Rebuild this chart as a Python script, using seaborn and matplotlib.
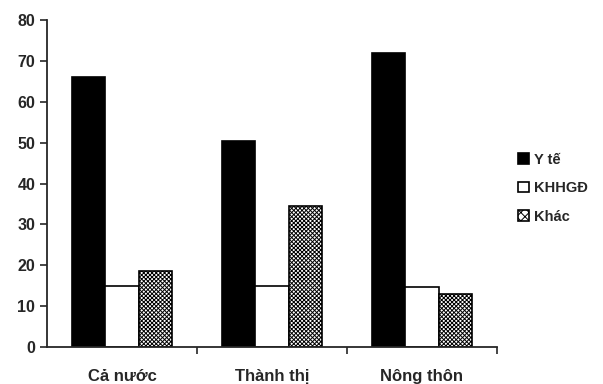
import seaborn as sns
import matplotlib.pyplot as plt
import pandas as pd
from matplotlib.patches import Patch

categories = ["Cả nước", "Thành thị", "Nông thôn"]
series = ["Y tế", "KHHGĐ", "Khác"]
y_te = [66, 50.4, 71.9]
khhgd = [15, 15, 14.8]
khac = [18.6, 34.6, 13]

sns.set_style("ticks")
plt.rcParams['font.family'] = ['Liberation Sans', 'DejaVu Sans']
plt.rcParams['font.weight'] = 'bold'
plt.rcParams['hatch.linewidth'] = 0.7

df = pd.DataFrame({
    "cat": categories * 3,
    "series": [s for s in series for _ in categories],
    "value": y_te + khhgd + khac,
})

colors = {"Y tế": "black", "KHHGĐ": "white", "Khác": "white"}

fig = plt.figure(figsize=(6.03, 3.84), dpi=100)
ax = fig.add_axes([0.078, 0.096, 0.746, 0.852])
sns.barplot(data=df, x="cat", y="value", hue="series", palette=colors,
            width=2/3, gap=0, edgecolor="black", linewidth=1.2,
            legend=False, ax=ax)

for bar in ax.containers[2]:
    bar.set_hatch("xxxxxxxx")

ax.set_xlim(-0.5, 2.5)
ax.set_ylim(0, 80)
ax.set_yticks(range(0, 81, 10))
ax.set_xticks([0.5, 1.5, 2.5], minor=False)
ax.set_xticklabels([])
ax.set_xticks([0, 1, 2], minor=True)
ax.set_xticklabels(categories, minor=True, fontsize=12, fontweight='bold')
ax.tick_params(axis='x', which='minor', length=0, pad=16)
ax.tick_params(axis='x', which='major', length=5, width=1.2, direction='out')
ax.tick_params(axis='y', length=5, width=1.2, labelsize=11.5)
for lab in ax.get_yticklabels():
    lab.set_fontweight('bold')
ax.set_xlabel("")
ax.set_ylabel("")
sns.despine(ax=ax)
for sp in ["left", "bottom"]:
    ax.spines[sp].set_linewidth(1.3)

handles = [
    Patch(facecolor="black", edgecolor="black", linewidth=1.2),
    Patch(facecolor="white", edgecolor="black", linewidth=1.2),
    Patch(facecolor="white", edgecolor="black", linewidth=1.2, hatch="xxxx"),
]
fig.legend(handles, series, loc="center left", bbox_to_anchor=(0.838, 0.51),
           frameon=False, handlelength=0.75, handleheight=0.75,
           handletextpad=0.35, labelspacing=1.0,
           prop={'weight': 'bold', 'size': 10.5})

fig.savefig("out.png", dpi=100)
